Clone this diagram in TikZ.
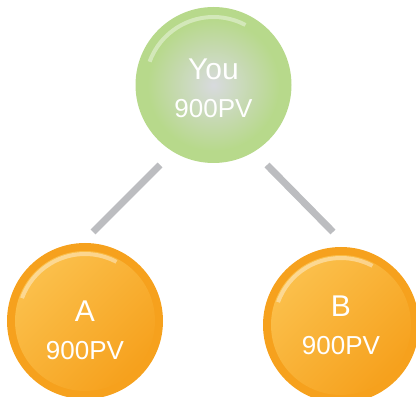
\documentclass[tikz,border=0pt]{standalone}
\usepackage{fontspec}
\setmainfont{Liberation Sans}
\definecolor{pvgreen}{HTML}{B7D98B}
\definecolor{pvgray}{HTML}{D8DADE}
\definecolor{pvorange}{HTML}{F6A11D}
\definecolor{pvlight}{HTML}{FBC04C}
\definecolor{pvline}{HTML}{BCBDC0}

\tikzset{
    ball/.style={circle, minimum size=156pt, inner sep=0pt},
    label/.style={text=white, align=center, font=\fontsize{26}{35}\selectfont},
    shine/.style={white, opacity=.4},
    link/.style={draw=pvline, line width=7pt}
}

\begin{document}
\begin{tikzpicture}[x=1pt, y=1pt]
    \useasboundingbox (0,0) rectangle (416,397);
    \node[ball, fill=pvgreen] (you) at (213.5,312) {};
    \node[ball, fill=pvorange] (a) at (85,76) {};
    \node[ball, fill=pvorange] (b) at (341,72) {};
    % 内圈渐变 + 顶部高光
    \shade[inner color=pvgray, outer color=pvgreen] (you.center) circle (66);
    \foreach \n in {a,b}
        \shade[top color=pvlight, bottom color=pvorange, shading angle=45] (\n.center) circle (70);
    \foreach \n/\r in {you/70,a/69,b/69}
        \fill[shine] ([shift={(160:\r)}]\n.center) arc (160:62:\r)
            -- ([shift={(62:\r-4)}]\n.center) arc (62:160:\r-4) -- cycle;
    \node[label] (you-text) at ([yshift=-3]you.center) {{\fontsize{30}{35}\selectfont You}\\[3pt]900PV};
    \node[label] (a-text) at ([yshift=-9]a.center) {{\fontsize{30}{35}\selectfont A}\\[3pt]900PV};
    \node[label] (b-text) at (b.center) {{\fontsize{30}{35}\selectfont B}\\[3pt]900PV};
    % 线段不连到圆心, 两端留空
    \draw[link] ([shift={(-53.5,-80)}]you.center) -- ([shift={(8,89)}]a.center);
    \draw[link] ([shift={(53.5,-80)}]you.center) -- ([shift={(-8,93)}]b.center);
\end{tikzpicture}
\end{document}
